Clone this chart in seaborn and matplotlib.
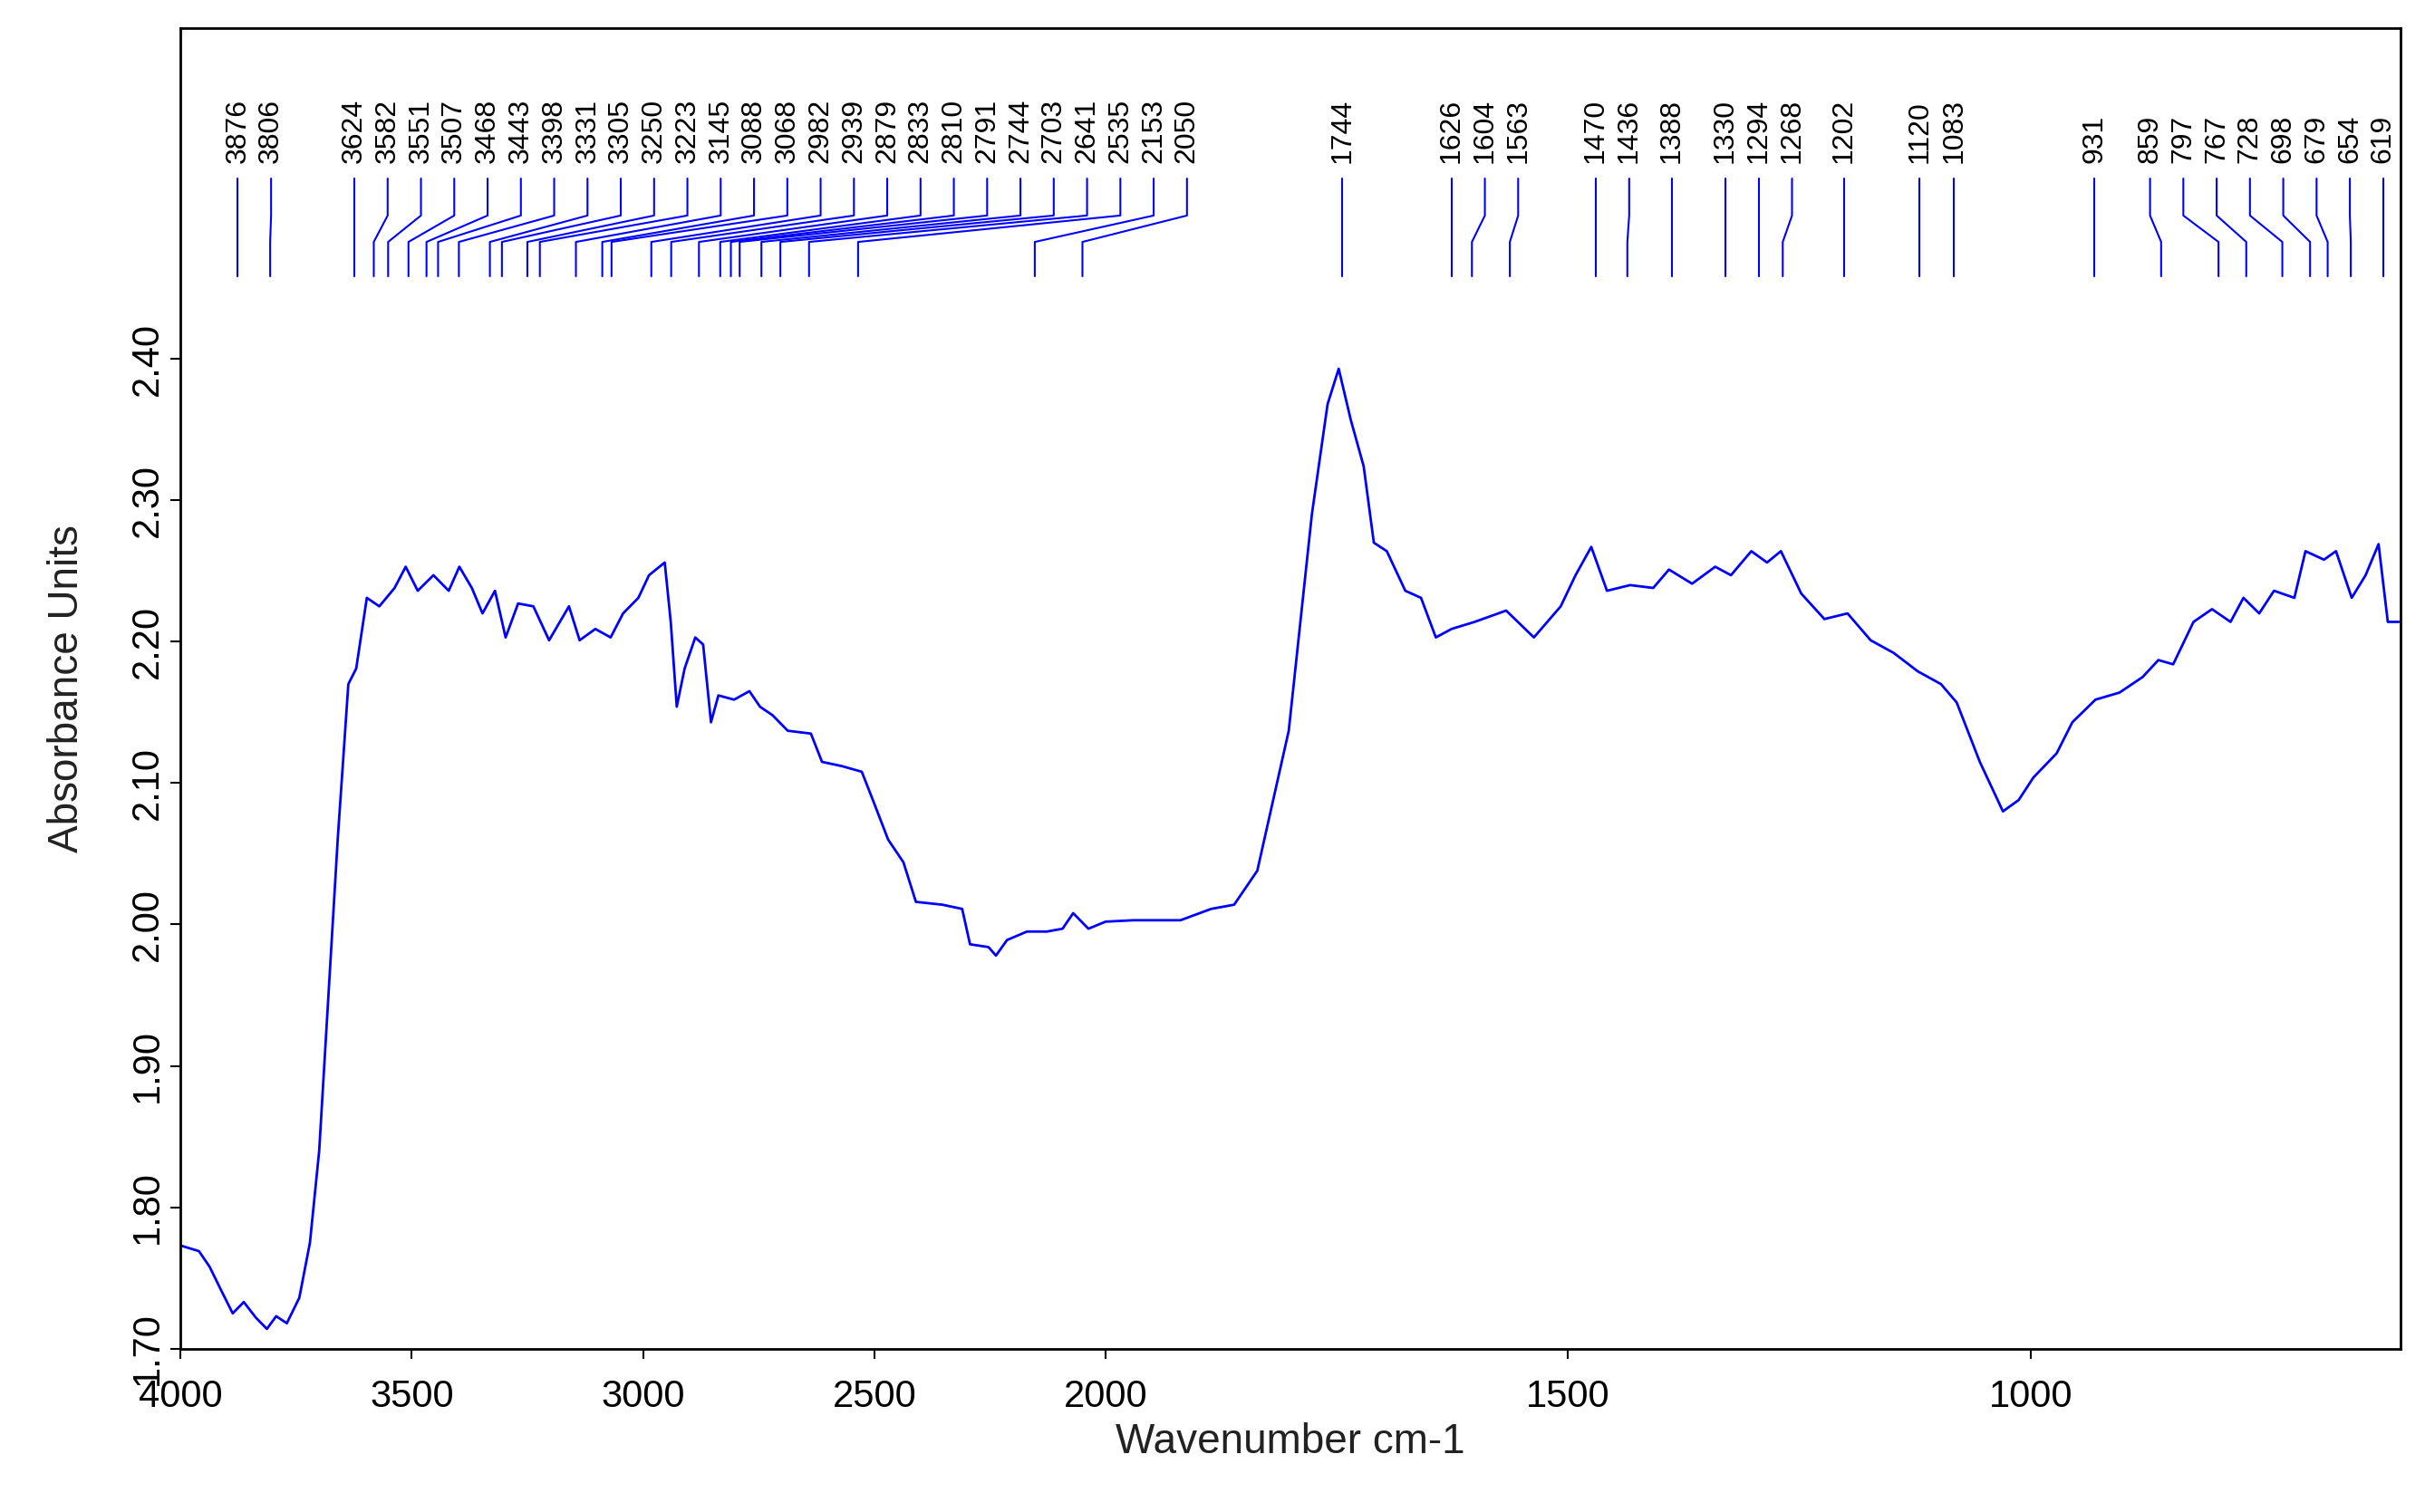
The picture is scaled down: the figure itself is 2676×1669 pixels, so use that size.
import numpy as np
import matplotlib
matplotlib.use("Agg")
import matplotlib.pyplot as plt
import matplotlib.transforms as mtransforms
import seaborn as sns

wavenumber = [4000,3960,3937,3913,3887,3863,3837,3813,3793,3770,3743,3720,3700,3680,3660,3637,3620,3597,3570,3537,
              3513,3487,3453,3420,3397,3370,3347,3320,3297,3270,3237,3203,3160,3137,3103,3070,3043,3010,2987,2953,
              2940,2927,2910,2887,2870,2853,2837,2803,2770,2747,2720,2687,2637,2613,2570,2527,2503,2470,2437,2410,
              2353,2310,2293,2253,2237,2213,2170,2127,2093,2070,2037,2000,1970,1919,1886,1861,1836,1802,1777,1760,
              1748,1735,1721,1710,1696,1676,1659,1643,1626,1601,1567,1537,1508,1492,1475,1458,1433,1408,1391,1366,
              1341,1324,1302,1285,1270,1248,1223,1198,1173,1148,1122,1097,1080,1055,1030,1013,997,972,955,930,
              904,879,862,846,824,804,784,770,753,737,715,703,683,670,653,638,624,614,602]
absorbance = [1.773,1.769,1.758,1.742,1.725,1.733,1.722,1.714,1.723,1.718,1.736,1.775,1.840,1.950,2.060,2.170,2.181,2.231,2.225,2.238,
              2.253,2.236,2.247,2.236,2.253,2.238,2.220,2.236,2.203,2.227,2.225,2.201,2.225,2.201,2.209,2.203,2.220,2.231,2.247,2.256,
              2.214,2.154,2.181,2.203,2.198,2.143,2.162,2.159,2.165,2.154,2.148,2.137,2.135,2.115,2.112,2.108,2.088,2.060,2.044,2.016,
              2.014,2.011,1.986,1.984,1.978,1.989,1.995,1.995,1.997,2.008,1.997,2.002,2.003,2.003,2.011,2.014,2.038,2.137,2.290,2.368,
              2.393,2.357,2.324,2.270,2.264,2.236,2.231,2.203,2.209,2.214,2.222,2.203,2.225,2.247,2.267,2.236,2.240,2.238,2.251,2.241,
              2.253,2.247,2.264,2.256,2.264,2.234,2.216,2.220,2.201,2.192,2.179,2.170,2.157,2.115,2.080,2.088,2.104,2.121,2.143,2.159,
              2.164,2.175,2.187,2.184,2.214,2.223,2.214,2.231,2.220,2.236,2.231,2.264,2.258,2.264,2.231,2.247,2.269,2.214,2.214]
peaks = [3876,3806,3624,3582,3551,3507,3468,3443,3398,3331,3305,3250,3223,3145,3088,3068,2982,2939,2879,2833,
         2810,2791,2744,2703,2641,2535,2153,2050,1744,1626,1604,1563,1470,1436,1388,1330,1294,1268,1202,1120,
         1083,931,859,797,767,728,698,679,654,619]
x_ticks = [4000,3500,3000,2500,2000,1500,1000]
y_ticks = [1.70,1.80,1.90,2.00,2.10,2.20,2.30,2.40]

sns.set_theme(style="white")
plt.rcParams['font.family'] = ['Liberation Sans', 'DejaVu Sans']

def fwd(w):
    w = np.asarray(w, dtype=float)
    return np.where(w < 2000, w, 2000 + (w - 2000) * 0.5)
def inv(g):
    g = np.asarray(g, dtype=float)
    return np.where(g < 2000, g, 2000 + (g - 2000) * 2.0)

fig = plt.figure(figsize=(26.76, 16.69), dpi=100)
ax = fig.add_axes([0.0744, 0.108, 0.9156, 0.8735])
ax.set_xscale('function', functions=(fwd, inv))
sns.lineplot(x=wavenumber, y=absorbance, ax=ax, color='#0000FF', linewidth=2.0, sort=False, estimator=None)
ax.set_xlim(4000, 600)
ax.set_ylim(1.70, 2.634)
ax.set_xticks(x_ticks)
ax.set_xticklabels([str(v) for v in x_ticks], fontsize=30)
ax.set_yticks(y_ticks)
ax.set_yticklabels([f"{v:.2f}" for v in y_ticks], fontsize=30, rotation=90, va='center')
ax.tick_params(axis='both', direction='out', length=8, width=1.5, colors='black', bottom=True, left=True)
ax.tick_params(axis='x', pad=16)
ax.set_xlabel("Wavenumber cm-1", fontsize=33, color='#222222', labelpad=6)
ax.set_ylabel("Absorbance Units", fontsize=33, color='#222222', labelpad=34)
for s in ax.spines.values():
    s.set_color('black'); s.set_linewidth(2)

# label layout in transformed space: forward greedy push, then push back from right edge
p = fwd(peaks)
gap = 36.0
gmin = float(fwd(619))
L = p.copy()
for i in range(1, len(L)):
    L[i] = min(L[i], L[i - 1] - gap)
L[-1] = max(L[-1], gmin)
for i in range(len(L) - 2, -1, -1):
    L[i] = max(L[i], L[i + 1] + gap)
label_w = inv(L)

trans = mtransforms.blended_transform_factory(ax.transData, ax.transAxes)
y_top, y_k1, y_k2, y_bot, y_txt = 0.886, 0.858, 0.838, 0.812, 0.898
for w, lw_ in zip(peaks, label_w):
    ax.plot([lw_, lw_, w, w], [y_top, y_k1, y_k2, y_bot], transform=trans,
            color='#0000FF', linewidth=1.5, clip_on=False)
    ax.text(lw_, y_txt, str(w), transform=trans, rotation=90, ha='center', va='bottom',
            fontsize=23, color='black')

fig.savefig("out.png", dpi=100, facecolor='white')
